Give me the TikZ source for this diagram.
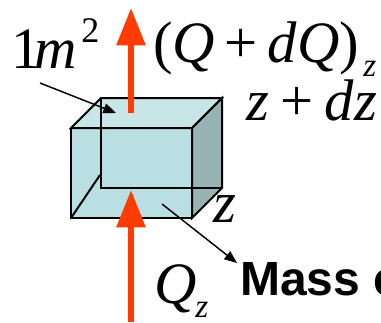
\documentclass[tikz,border=0pt]{standalone}
\usepackage{fontspec}
\setmainfont{Liberation Serif}
\setsansfont{Liberation Sans}
\usetikzlibrary{arrows.meta}

\definecolor{frontcol}{HTML}{B9DFE3}
\definecolor{topcol}{HTML}{C8E5E8}
\definecolor{sidecol}{HTML}{97B3B3}
\definecolor{fluxcol}{HTML}{FF3C00}

\begin{document}
\begin{tikzpicture}[
    x=0.75pt, y=-0.75pt,
    face/.style={draw=black, line width=1.5pt, line join=miter},
    edge/.style={black, line width=1.5pt},
    flux/.style={draw=fluxcol, line width=4.5pt, -{Triangle[width=21pt, length=28pt, fill=fluxcol]}},
    pointer/.style={black, line width=1.1pt, -{Triangle[width=7.5pt, length=9.5pt]}},
    lab/.style={anchor=base west, inner sep=0pt, font=\fontsize{44}{44}\selectfont\itshape},
    sublab/.style={anchor=base west, inner sep=0pt, font=\fontsize{25}{25}\selectfont\itshape},
]
    \useasboundingbox (0,0) rectangle (381,322);
    \clip (0,0) rectangle (381,322);

    % box
    \coordinate (fnw) at (71,128);
    \coordinate (fne) at (192,128);
    \coordinate (fse) at (192,218);
    \coordinate (fsw) at (71,218);
    \coordinate (bnw) at (101,98);
    \coordinate (bne) at (222,98);
    \coordinate (bse) at (222,188);
    \coordinate (bsw) at (101,188);
    \coordinate (bhid) at (100,175);

    \fill[topcol] (fnw) -- (bnw) -- (bne) -- (fne) -- cycle;
    \fill[sidecol] (fne) -- (bne) -- (bse) -- (fse) -- cycle;
    \fill[frontcol] (fnw) -- (fne) -- (fse) -- (fsw) -- cycle;
    \draw[face] (fnw) -- (bnw) -- (bne) -- (fne) -- cycle;
    \draw[face] (fne) -- (bne) -- (bse) -- (fse) -- cycle;
    \draw[face] (fnw) -- (fne) -- (fse) -- (fsw) -- cycle;
    \draw[edge] (bnw) -- (bsw) -- (bse);
    \draw[edge] (fsw) -- (bhid);

    % flux arrows
    \coordinate (topstart) at (131,113);
    \coordinate (toptip) at (131,8);
    \coordinate (botstart) at (131,322);
    \coordinate (bottip) at (131,190);
    \draw[flux] (topstart) -- (toptip);
    \draw[flux] (botstart) -- (bottip);

    % labels
    \node[lab] (area) at (11,68) {\upshape 1\kern-4.5pt\itshape m};
    \node[sublab, font=\fontsize{27}{27}\selectfont] (areaexp) at (81,42) {2};
    \node[lab] (qout) at (153,62) {\upshape(\itshape Q\,\upshape+\,\itshape dQ\upshape)};
    \node[sublab] (qoutsub) at (363,76) {z};
    \node[lab] (ztop) at (246,120) {z\kern8.5pt\upshape+\kern8.5pt\itshape dz};
    \node[lab] (zbot) at (213,222) {z};
    \node[lab] (qin) at (154,303) {Q};
    \node[sublab] (qinsub) at (195,317) {z};
    \node[anchor=base west, inner sep=0pt, font=\fontsize{36}{36}\selectfont\sffamily\bfseries] (mass) at (240,295) {Mass c};

    % pointers
    \coordinate (areastart) at (40,83);
    \coordinate (areatip) at (116,113);
    \coordinate (massstart) at (162,204);
    \coordinate (masstip) at (237,263);
    \draw[pointer] (areastart) -- (areatip);
    \draw[pointer] (massstart) -- (masstip);
\end{tikzpicture}
\end{document}
